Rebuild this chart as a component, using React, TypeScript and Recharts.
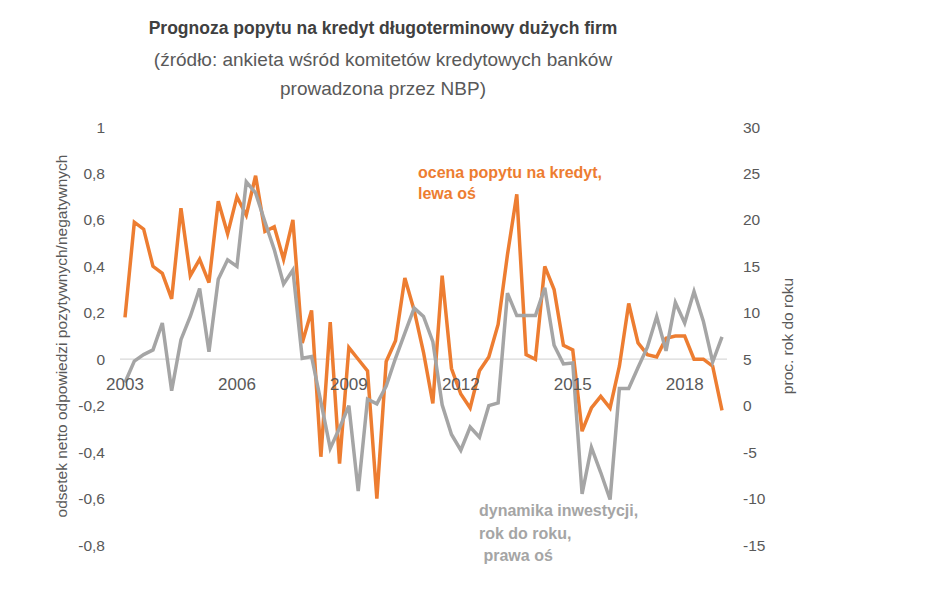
import React from 'react';
import { LineChart, Line, XAxis, YAxis, ReferenceLine, ReferenceDot } from 'recharts';

const quarters = [
  '2003Q1','2003Q2','2003Q3','2003Q4','2004Q1','2004Q2','2004Q3','2004Q4',
  '2005Q1','2005Q2','2005Q3','2005Q4','2006Q1','2006Q2','2006Q3','2006Q4',
  '2007Q1','2007Q2','2007Q3','2007Q4','2008Q1','2008Q2','2008Q3','2008Q4',
  '2009Q1','2009Q2','2009Q3','2009Q4','2010Q1','2010Q2','2010Q3','2010Q4',
  '2011Q1','2011Q2','2011Q3','2011Q4','2012Q1','2012Q2','2012Q3','2012Q4',
  '2013Q1','2013Q2','2013Q3','2013Q4','2014Q1','2014Q2','2014Q3','2014Q4',
  '2015Q1','2015Q2','2015Q3','2015Q4','2016Q1','2016Q2','2016Q3','2016Q4',
  '2017Q1','2017Q2','2017Q3','2017Q4','2018Q1','2018Q2','2018Q3','2018Q4',
  '2019Q1',
];

// ocena popytu na kredyt (lewa oś)
const creditDemand = [
  0.18, 0.59, 0.56, 0.40, 0.37, 0.26, 0.65, 0.36,
  0.43, 0.33, 0.68, 0.54, 0.70, 0.62, 0.79, 0.55,
  0.57, 0.43, 0.60, 0.07, 0.21, -0.42, 0.16, -0.45,
  0.05, 0.00, -0.05, -0.60, -0.01, 0.08, 0.35, 0.21,
  0.03, -0.19, 0.36, -0.04, -0.15, -0.21, -0.05, 0.01,
  0.15, 0.45, 0.71, 0.02, 0.00, 0.40, 0.30, 0.06,
  0.04, -0.31, -0.21, -0.16, -0.21, -0.03, 0.24, 0.07,
  0.02, 0.01, 0.09, 0.10, 0.10, 0.00, 0.00, -0.03,
  -0.22,
];

// dynamika inwestycji r/r (prawa oś)
const investmentGrowth = [
  2.5, 4.8, 5.5, 6.0, 8.9, 1.6, 7.1, 9.6,
  12.6, 5.8, 13.6, 15.7, 15.0, 24.1, 22.9, 19.8,
  16.8, 13.1, 14.6, 5.1, 5.3, 0.4, -4.6, -2.4,
  0.0, -9.2, 0.7, 0.2, 2.1, 5.1, 7.8, 10.5,
  9.6, 6.9, 0.1, -3.1, -4.8, -2.3, -3.4, 0.0,
  0.3, 12.1, 9.7, 9.7, 9.7, 12.7, 6.5, 4.5,
  4.6, -9.5, -4.5, -7.2, -10.1, 1.85, 1.85, 4.1,
  6.3, 9.6, 5.9, 11.1, 8.9, 12.3, 9.1, 4.7,
  7.4,
];

const yearTickCategories = ['2003Q1', '2006Q1', '2009Q1', '2012Q1', '2015Q1', '2018Q1'];
const yearTickLabels = ['2003', '2006', '2009', '2012', '2015', '2018'];
const leftTicks = [-0.8, -0.6, -0.4, -0.2, 0, 0.2, 0.4, 0.6, 0.8, 1];
const rightTicks = [-15, -10, -5, 0, 5, 10, 15, 20, 25, 30];

const titleText = 'Prognoza popytu na kredyt długoterminowy dużych firm';
const subtitleLines = ['(źródło: ankieta wśród komitetów kredytowych banków', 'prowadzona przez NBP)'];
const leftAxisTitle = 'odsetek netto odpowiedzi pozytywnych/negatywnych';
const rightAxisTitle = 'proc. rok do roku';
const demandNote = ['ocena popytu na kredyt,', 'lewa oś'];
const investNote = ['dynamika inwestycji,', 'rok do roku,', ' prawa oś'];

const data = quarters.map((q, i) => ({ q, demand: creditDemand[i], invest: investmentGrowth[i] }));

const ORANGE = '#ED7D31';
const GRAY = '#A5A5A5';
const AXIS_TEXT = '#595959';
const FONT = '"Liberation Sans", Arial, sans-serif';

const fmtLeft = (v: number) => {
  const r = Math.round(v * 10) / 10;
  return String(r).replace('.', ',');
};

const AxisTitle = (x: number, text: string) => (props: any) => {
  const vb = props.viewBox || {};
  const cy = (vb.y ?? 119) + (vb.height ?? 418) / 2;
  return (
    <text
      x={x}
      y={cy}
      transform={`rotate(-90, ${x}, ${cy})`}
      textAnchor="middle"
      dominantBaseline="central"
      fill={AXIS_TEXT}
      fontSize={15.5}
      fontFamily={FONT}
    >
      {text}
    </text>
  );
};

export default function App() {
  return (
    <div style={{ position: 'relative', width: 929, height: 575, fontFamily: FONT }}>
      <LineChart width={929} height={575} data={data} margin={{ top: 119, right: 120, bottom: 38, left: 0 }}>
        <XAxis dataKey="q" hide padding={{ left: 5, right: 5 }} />
        <YAxis
          yAxisId="left"
          domain={[-0.8, 1]}
          ticks={leftTicks}
          interval={0}
          width={112}
          axisLine={false}
          tickLine={false}
          tickSize={0}
          tickMargin={15}
          tickFormatter={fmtLeft}
          tick={{ fill: AXIS_TEXT, fontSize: 15.5, fontFamily: FONT }}
          label={{ content: AxisTitle(53, leftAxisTitle) }}
        />
        <YAxis
          yAxisId="right"
          orientation="right"
          domain={[-15, 30]}
          ticks={rightTicks}
          interval={0}
          width={90}
          axisLine={false}
          tickLine={false}
          tickSize={0}
          tickMargin={16}
          tick={{ fill: AXIS_TEXT, fontSize: 15.5, fontFamily: FONT, textAnchor: 'start' }}
          label={{ content: AxisTitle(779, rightAxisTitle) }}
        />
        <ReferenceLine yAxisId="left" y={0} stroke="#D9D9D9" strokeWidth={1.2} />
        {yearTickCategories.map((c, i) => (
          <ReferenceDot
            key={c}
            x={c}
            y={0}
            yAxisId="left"
            r={0}
            fill="none"
            stroke="none"
            label={{ value: yearTickLabels[i], position: 'bottom', offset: 19, fill: AXIS_TEXT, fontSize: 17, fontFamily: FONT }}
          />
        ))}
        <Line
          yAxisId="left"
          type="linear"
          dataKey="demand"
          stroke={ORANGE}
          strokeWidth={3.5}
          dot={false}
          isAnimationActive={false}
        />
        <Line
          yAxisId="right"
          type="linear"
          dataKey="invest"
          stroke={GRAY}
          strokeWidth={3.5}
          dot={false}
          isAnimationActive={false}
        />
      </LineChart>

      <div style={{ position: 'absolute', left: 75, width: 600, top: 12, textAlign: 'center', fontSize: 17.5, lineHeight: 1, fontWeight: 'bold', color: '#404040', whiteSpace: 'nowrap' }}>
        {titleText}
      </div>
      {subtitleLines.map((s, i) => (
        <div key={s} style={{ position: 'absolute', left: 75, width: 600, top: 42 + i * 29, textAlign: 'center', fontSize: 19, lineHeight: 1, color: AXIS_TEXT, whiteSpace: 'nowrap' }}>
          {s}
        </div>
      ))}
      {demandNote.map((s, i) => (
        <div key={s} style={{ position: 'absolute', left: 410, top: 156.5 + i * 21, fontSize: 16, lineHeight: 1, fontWeight: 'bold', color: ORANGE, whiteSpace: 'pre' }}>
          {s}
        </div>
      ))}
      {investNote.map((s, i) => (
        <div key={s} style={{ position: 'absolute', left: 471, top: 495 + i * 22.5, fontSize: 16, lineHeight: 1, fontWeight: 'bold', color: GRAY, whiteSpace: 'pre' }}>
          {s}
        </div>
      ))}
    </div>
  );
}
